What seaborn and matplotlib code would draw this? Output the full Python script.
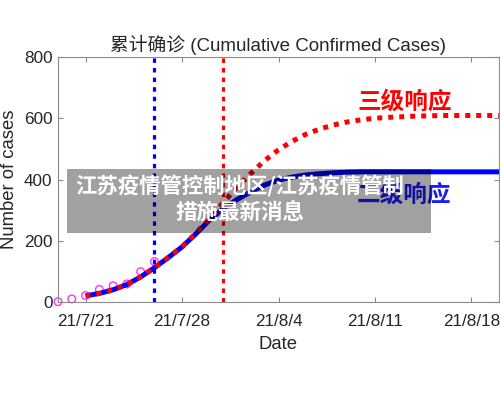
import matplotlib
matplotlib.use("Agg")
import matplotlib.pyplot as plt
import matplotlib.dates as mdates
from matplotlib.ticker import FuncFormatter
from matplotlib.patches import Rectangle
import seaborn as sns
import pandas as pd
import numpy as np

# ---- data ----
obs_dates = pd.date_range("2021-07-19", "2021-07-26", freq="D")
obs_cases = [1, 10, 21, 41, 53, 59, 99, 132]

fit_dates = pd.date_range("2021-07-21", "2021-08-20", freq="D")
fit_level2 = [20, 28, 40, 57, 82, 112, 145, 180, 222, 268, 305, 335, 360, 382,
              398, 408, 415, 419, 422, 424, 425, 425, 425, 425, 425, 425, 425,
              425, 425, 425, 425]
fit_level3 = [20, 28, 40, 57, 82, 112, 145, 180, 225, 272, 325, 375, 420, 462,
              497, 525, 548, 565, 578, 588, 595, 600, 603, 605, 607, 608, 609,
              609, 609, 609, 609]

level2_date = pd.Timestamp("2021-07-26")
level3_date = pd.Timestamp("2021-07-31")

tick_dates = pd.to_datetime(["2021-07-21", "2021-07-28", "2021-08-04",
                             "2021-08-11", "2021-08-18"])
y_ticks = [0, 200, 400, 600, 800]

title_text = "累计确诊 (Cumulative Confirmed Cases)"
label3 = "三级响应"
label2 = "二级响应"
overlay_lines = ["江苏疫情管控制地区/江苏疫情管制", "措施最新消息"]

# ---- style ----
sns.set_theme(style="white")
plt.rcParams['font.family'] = ['Liberation Sans', 'Noto Sans CJK SC', 'DejaVu Sans']
plt.rcParams['axes.unicode_minus'] = False

fig = plt.figure(figsize=(5.0, 4.04), dpi=100)
ax = fig.add_axes([58/500, 1-302/404, (499-58)/500, (302-57)/404])

obs_df = pd.DataFrame({"date": obs_dates, "cases": obs_cases})
fit_df = pd.DataFrame({"date": fit_dates, "l2": fit_level2, "l3": fit_level3})

sns.scatterplot(data=obs_df, x="date", y="cases", ax=ax, marker="o", s=30,
                facecolors="none", edgecolor="#ff33ff", linewidth=1.0, zorder=2,
                clip_on=False)
sns.lineplot(data=fit_df, x="date", y="l2", ax=ax, color="#0000ff", lw=3.6,
             zorder=3, solid_capstyle="butt")
sns.lineplot(data=fit_df, x="date", y="l3", ax=ax, color="#ff0000", lw=3.6,
             zorder=4)
ax.lines[-1].set_dashes((1.0, 1.2))
ax.lines[-1].set_dash_capstyle("butt")

v2 = ax.axvline(level2_date, color="#0000ff", lw=2.3, zorder=5)
v2.set_dashes((1.4, 1.6))
v3 = ax.axvline(level3_date, color="#ff0000", lw=2.3, zorder=5)
v3.set_dashes((1.4, 1.6))

ax.set_xlim(pd.Timestamp("2021-07-19"), pd.Timestamp("2021-08-20"))
ax.set_ylim(0, 800)
ax.set_xticks(tick_dates)
ax.xaxis.set_major_formatter(FuncFormatter(
    lambda v, p: (lambda d: f"{d.year % 100}/{d.month}/{d.day}")(mdates.num2date(v))))
ax.set_yticks(y_ticks)

ax.text(pd.Timestamp("2021-08-13 03:00"), 655, label3, color="#ff0000",
        fontsize=17, fontweight="bold", ha="center", va="center",
        family=['Noto Sans CJK SC'], zorder=6)
ax.text(pd.Timestamp("2021-08-13 03:00"), 352, label2, color="#1a1aff",
        fontsize=17, fontweight="bold", ha="center", va="center",
        family=['Noto Sans CJK SC'], zorder=6)

spine_c = "#8a8a8a"
for s in ax.spines.values():
    s.set_visible(True)
    s.set_color(spine_c)
    s.set_linewidth(0.8)
ax.tick_params(axis="both", direction="in", length=3.6, width=0.8,
               color=spine_c, labelcolor="#262626", labelsize=12.3,
               top=True, right=True, bottom=True, left=True)
ax.tick_params(axis="x", pad=8.5)
ax.tick_params(axis="y", pad=4)
ax.grid(False)

ax.set_xlabel("Date", fontsize=13.3, color="#262626", labelpad=5)
ax.set_ylabel("Number of cases", fontsize=13.3, color="#262626", labelpad=4)
ax.set_title(title_text, fontsize=13.5, color="#262626", pad=4)

# overlay banner
fig.add_artist(Rectangle((67/500, 1-233/404), (431-67)/500, (233-169)/404,
                         transform=fig.transFigure, facecolor="black",
                         alpha=0.37, edgecolor="none", zorder=10))
fig.text(240/500, 1-186/404, overlay_lines[0], color="white", fontsize=15.4,
         fontweight="bold", ha="center", va="center",
         family=['Noto Sans CJK SC'], zorder=11)
fig.text(240/500, 1-213/404, overlay_lines[1], color="white", fontsize=15.5,
         fontweight="bold", ha="center", va="center",
         family=['Noto Sans CJK SC'], zorder=11)

fig.savefig("out.png", dpi=100)
